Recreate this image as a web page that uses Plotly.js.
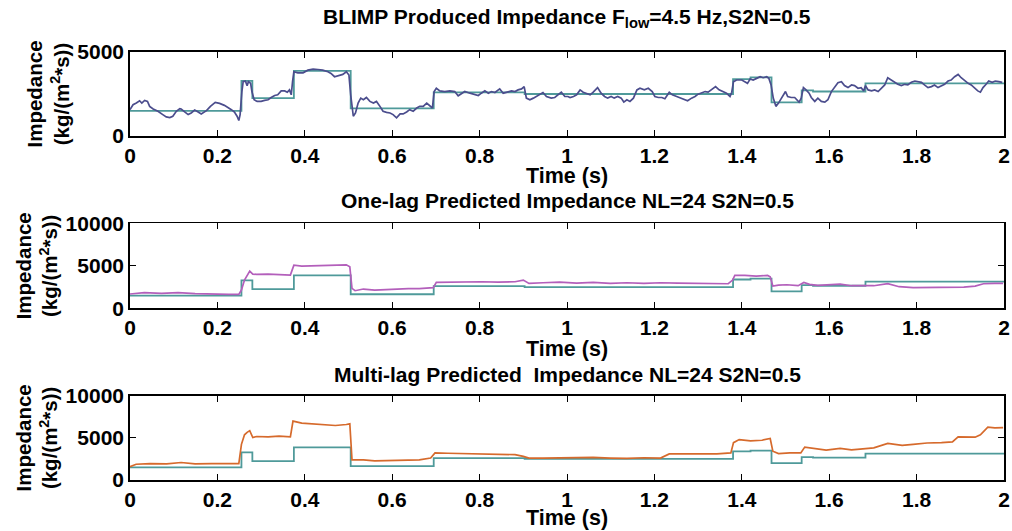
<!DOCTYPE html>
<html>
<head>
<meta charset="utf-8">
<script src="https://cdn.plot.ly/plotly-3.0.1.min.js"></script>
<style>html,body{margin:0;padding:0;background:#fff;}#chart{width:1012px;height:531px;}</style>
</head>
<body>
<div id="chart"></div>
<script>
// ---- True (blocky) impedance model: step edges (s) and values ----
const stepTime = [0, 0.255, 0.28, 0.375, 0.505, 0.695, 0.903, 1.38, 1.42, 1.468, 1.537, 1.563, 1.683, 2.0];
const stepImp  = [1500, 3280, 2250, 3880, 1650, 2600, 2500, 3390, 3490, 2000, 2720, 2650, 3130, 3130];

// ---- BLIMP produced impedance (top panel) ----
const blimpTime = [0,0.007,0.0145,0.022,0.027,0.0335,0.04,0.045,0.053,0.064,0.075,0.083,0.091,0.098,0.106,0.114,0.117,0.125,0.133,0.14,0.148,0.156,0.163,0.175,0.184,0.195,0.205,0.216,0.224,0.232,0.239,0.245,0.249,0.252,0.256,0.259,0.264,0.268,0.271,0.276,0.279,0.284,0.291,0.3,0.308,0.316,0.323,0.331,0.338,0.346,0.354,0.36,0.365,0.369,0.372,0.375,0.384,0.396,0.407,0.419,0.43,0.441,0.453,0.46,0.468,0.476,0.487,0.495,0.501,0.505,0.511,0.516,0.522,0.528,0.534,0.541,0.549,0.557,0.564,0.572,0.579,0.587,0.595,0.602,0.61,0.618,0.625,0.633,0.64,0.648,0.656,0.663,0.671,0.679,0.686,0.692,0.696,0.701,0.709,0.72,0.732,0.743,0.751,0.758,0.766,0.778,0.789,0.797,0.804,0.812,0.82,0.827,0.835,0.846,0.854,0.865,0.873,0.881,0.888,0.896,0.902,0.907,0.915,0.923,0.93,0.938,0.945,0.953,0.964,0.972,0.98,0.987,0.995,1.002,1.007,1.015,1.022,1.03,1.037,1.045,1.053,1.06,1.07,1.078,1.086,1.093,1.101,1.108,1.116,1.124,1.13,1.137,1.144,1.152,1.16,1.167,1.177,1.186,1.195,1.201,1.209,1.217,1.224,1.234,1.241,1.251,1.261,1.27,1.276,1.285,1.293,1.3,1.308,1.316,1.323,1.331,1.34,1.348,1.358,1.365,1.373,1.377,1.381,1.388,1.4,1.407,1.413,1.419,1.426,1.434,1.442,1.449,1.457,1.462,1.467,1.472,1.478,1.484,1.491,1.5,1.505,1.513,1.521,1.526,1.531,1.536,1.541,1.547,1.554,1.559,1.567,1.574,1.582,1.59,1.597,1.605,1.613,1.62,1.628,1.635,1.643,1.651,1.658,1.666,1.673,1.679,1.683,1.689,1.697,1.704,1.712,1.719,1.727,1.734,1.742,1.75,1.757,1.765,1.773,1.78,1.788,1.796,1.803,1.811,1.818,1.826,1.834,1.841,1.849,1.857,1.864,1.872,1.879,1.887,1.895,1.902,1.91,1.918,1.925,1.933,1.94,1.946,1.952,1.959,1.965,1.973,1.98,1.988,1.996];
const blimpImp  = [1568,1862,1960,2097,1960,2117,2058,1764,1607,1470,1274,1137,1098,1176,1470,1627,1607,1431,1274,1372,1548,1431,1313,1509,1764,1999,1940,1823,1705,1568,1431,1176,921,1274,2646,3234,3273,2999,3234,3136,2646,2156,2058,2058,2117,2156,2293,2411,2450,2685,2685,2607,2744,2450,3234,3822,3763,3763,3920,3979,3959,3920,3822,3724,3528,3567,3665,3822,3626,2450,1176,1372,1960,2254,2156,2293,2058,1960,2058,1764,1470,1411,1372,1274,1078,1313,1313,1431,1568,1470,1666,1764,1764,1960,1823,1666,2646,2842,2685,2646,2685,2646,2391,2509,2646,2548,2450,2411,2548,2685,2548,2646,2587,2803,2548,2646,2685,2646,2744,2803,2940,2254,2156,2254,2352,2489,2587,2352,2254,2293,2489,2607,2352,2352,2293,2352,2450,2744,2607,2548,2450,2607,2881,2548,2352,2254,2352,2254,2352,2254,2019,2156,2058,2254,2744,2842,2744,2842,2646,2352,2293,2293,2215,2607,2450,2352,2254,2156,2097,2254,2352,2489,2548,2646,2607,2744,2940,2744,2607,2548,2352,2607,3234,3332,3332,3234,3136,3391,3332,3430,3528,3469,3528,3430,3038,2254,1764,1960,2254,2646,2352,2293,2293,2156,2019,2254,2881,2744,2548,2293,2058,2254,2058,2019,2156,2646,2940,3175,3234,3000,2881,3038,3000,2842,2881,2685,3000,2744,2685,2744,2646,2842,3038,3469,3332,3234,3077,3000,3077,3038,3195,3273,3234,3195,3038,2881,2940,3038,2881,3000,3077,3273,3332,3528,3665,3469,3273,3136,3038,2842,2685,2607,2881,3077,3273,3195,3273,3234,3195];

// ---- One-lag predicted impedance (middle panel) ----
const oneLagTime = [0,0.033,0.072,0.11,0.149,0.187,0.226,0.249,0.255,0.262,0.268,0.274,0.281,0.29,0.316,0.341,0.367,0.371,0.375,0.393,0.418,0.444,0.47,0.495,0.503,0.508,0.515,0.534,0.56,0.585,0.611,0.637,0.662,0.688,0.694,0.701,0.727,0.765,0.804,0.842,0.881,0.9,0.913,0.945,0.983,1.022,1.06,1.099,1.137,1.176,1.214,1.253,1.291,1.33,1.369,1.379,1.384,1.407,1.433,1.459,1.465,1.471,1.484,1.503,1.529,1.542,1.555,1.574,1.6,1.625,1.651,1.677,1.702,1.734,1.76,1.792,1.831,1.869,1.908,1.934,1.953,1.979,1.998];
const oneLagImp  = [1680,1836,1758,1836,1719,1640,1640,1640,2148,3320,3906,4375,4023,3984,4023,3984,3906,4492,5078,4961,5000,4961,5039,5117,4883,2344,2070,2266,2148,2227,2266,2305,2305,2344,2422,3047,3086,3086,3125,3086,3125,3320,2930,3008,3086,2969,3047,2930,3008,2930,3008,2969,2930,2969,2891,3320,3867,3867,3789,3867,3711,2617,2734,2773,2656,3047,2813,2695,2734,2852,2656,2617,2656,2891,2539,2422,2461,2539,2500,2617,2891,2930,2930];

// ---- Multi-lag predicted impedance (bottom panel) ----
const multiLagTime = [0,0.014,0.046,0.084,0.117,0.149,0.187,0.226,0.249,0.255,0.262,0.268,0.274,0.281,0.29,0.316,0.341,0.367,0.373,0.393,0.418,0.444,0.47,0.495,0.503,0.508,0.534,0.56,0.585,0.611,0.637,0.662,0.688,0.698,0.727,0.765,0.804,0.842,0.881,0.9,0.913,0.945,0.983,1.022,1.06,1.099,1.137,1.176,1.214,1.234,1.266,1.304,1.343,1.375,1.381,1.394,1.42,1.446,1.465,1.471,1.484,1.51,1.535,1.544,1.567,1.593,1.625,1.651,1.677,1.702,1.734,1.767,1.792,1.824,1.857,1.882,1.895,1.934,1.946,1.963,1.979,1.998];
const multiLagImp  = [1585,1870,1951,1910,2073,1910,1951,1910,1951,4228,5366,5650,5854,5041,5163,5122,5203,5122,6992,6748,6667,6585,6463,6585,6667,2398,2398,2276,2317,2358,2358,2398,2602,3211,3171,3130,3089,3008,3008,2805,2602,2602,2642,2602,2683,2602,2561,2642,2602,3089,3089,3089,3089,3211,4431,4797,4634,4715,4919,3415,3130,3211,3211,3902,3699,3537,3740,3577,3699,3821,4350,4106,4228,4390,4431,4512,5122,5081,5366,6260,6179,6220];

// ---- Tick labels / titles ----
const xTickVals = [0,0.2,0.4,0.6,0.8,1,1.2,1.4,1.6,1.8,2];
const xTickText = ['0','0.2','0.4','0.6','0.8','1','1.2','1.4','1.6','1.8','2'];
const panelTitles = [
  'BLIMP Produced Impedance F<sub>low</sub>=4.5 Hz,S2N=0.5',
  'One-lag Predicted Impedance NL=24 S2N=0.5',
  'Multi-lag Predicted  Impedance NL=24 S2N=0.5'
];
const xTitle = 'Time (s)';
const yTitle = 'Impedance<br>(kg/(m<sup>2</sup>*s))';

const FONT = 'Liberation Sans, Arial, Helvetica, sans-serif';
const cTrue = '#4f9a9a', cBlimp = '#4b4d8d', cOne = '#b35fbb', cMulti = '#d66a2c';

const traces = [
  {x: stepTime, y: stepImp, xaxis:'x', yaxis:'y', mode:'lines', line:{shape:'hv', color:cTrue, width:1.8}},
  {x: blimpTime, y: blimpImp, xaxis:'x', yaxis:'y', mode:'lines', line:{color:cBlimp, width:1.7}},
  {x: stepTime, y: stepImp, xaxis:'x2', yaxis:'y2', mode:'lines', line:{shape:'hv', color:cTrue, width:1.8}},
  {x: oneLagTime, y: oneLagImp, xaxis:'x2', yaxis:'y2', mode:'lines', line:{color:cOne, width:1.7}},
  {x: stepTime, y: stepImp, xaxis:'x3', yaxis:'y3', mode:'lines', line:{shape:'hv', color:cTrue, width:1.8}},
  {x: multiLagTime, y: multiLagImp, xaxis:'x3', yaxis:'y3', mode:'lines', line:{color:cMulti, width:1.7}}
];

function xax(anchor){
  return {anchor:anchor, domain:[0,1], range:[0,2], tickvals:xTickVals, ticktext:xTickText,
    ticks:'inside', ticklen:6, tickcolor:'#000', tickwidth:1, mirror:'ticks', showline:true, linecolor:'#000', linewidth:1.8,
    showgrid:false, zeroline:false, tickfont:{family:FONT, size:21, weight:'bold', color:'#000'},
    ticklabelstandoff:0};
}
function yax(anchor, dom, rng, tv){
  return {anchor:anchor, domain:dom, range:rng, tickvals:tv, ticktext:tv.map(String),
    ticks:'inside', ticklen:6, tickcolor:'#000', tickwidth:1, mirror:'ticks', showline:true, linecolor:'#000', linewidth:1.8,
    showgrid:false, zeroline:false, tickfont:{family:FONT, size:21, weight:'bold', color:'#000'},
    ticklabelstandoff:0,
    title:{text:yTitle, font:{family:FONT, size:20.5, weight:'bold', color:'#000'}, standoff:2}};
}

const H = 531;
const d1 = [1-136/H, 1-52/H], d2 = [1-308.3/H, 1-223.3/H], d3 = [1-480/H, 1-395.7/H];

const ann = [];
[18, 201, 374].forEach((y, i) => ann.push({text:panelTitles[i], x:0.5, y:1-y/H, size:21}));
[176, 349, 518].forEach(y => ann.push({text:xTitle, x:0.5, y:1-y/H, size:21.5}));

const layout = {
  width:1012, height:531, paper_bgcolor:'#fff', plot_bgcolor:'#fff', showlegend:false,
  margin:{l:130, r:8, t:0, b:0},
  xaxis: xax('y'), yaxis: yax('x', d1, [0,5000], [0,5000]),
  xaxis2: xax('y2'), yaxis2: yax('x2', d2, [0,10000], [0,5000,10000]),
  xaxis3: xax('y3'), yaxis3: yax('x3', d3, [0,10000], [0,5000,10000]),
  annotations: ann.map(a => ({text:a.text, x:a.x, y:a.y, xref:'paper', yref:'paper', xanchor:'center', yanchor:'middle',
      showarrow:false, font:{family:FONT, size:a.size, weight:'bold', color:'#000'}}))
};

Plotly.newPlot('chart', traces, layout, {displayModeBar:false, staticPlot:true});
</script>
</body>
</html>
